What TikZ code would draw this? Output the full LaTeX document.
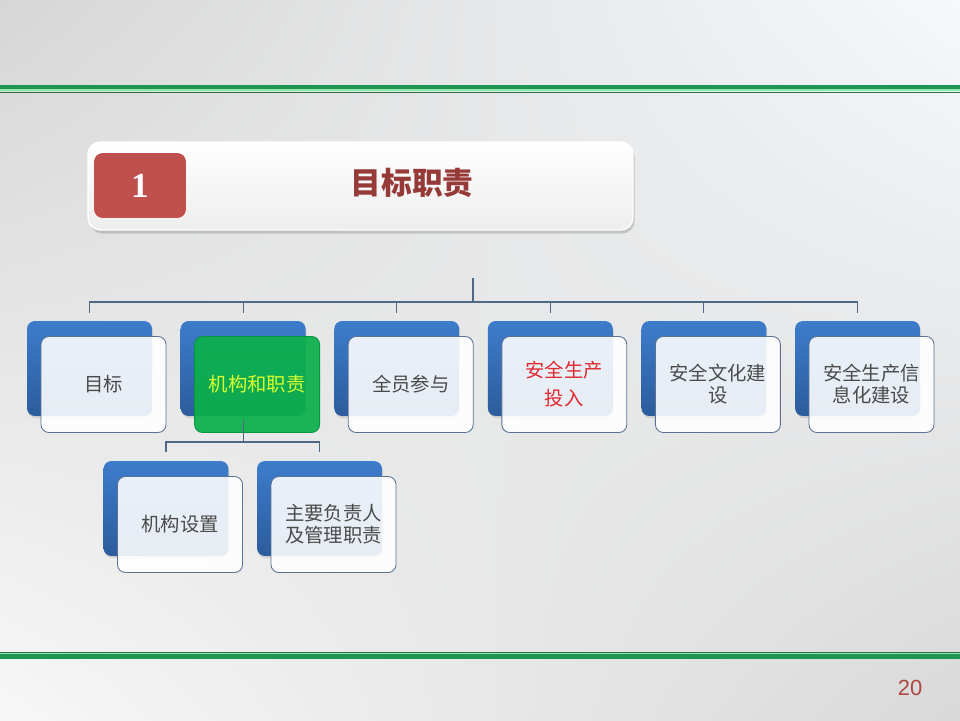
\documentclass[tikz,border=0pt]{standalone}
\usepackage{fontspec}
\setmainfont{Noto Sans CJK SC}
\newfontfamily\numsans{Liberation Sans}
\newfontfamily\numserif{Liberation Serif}
\usepackage{xcolor}
\usepackage{tikz}
\usetikzlibrary{shadows,shadings}
\definecolor{boxtop}{HTML}{3D7CCB}
\definecolor{boxbot}{HTML}{2C5C9C}
\definecolor{edge}{HTML}{5A7293}
\definecolor{labgray}{HTML}{4A4A4A}
\definecolor{hotgreen}{HTML}{0BB04C}
\definecolor{hottext}{HTML}{D8FF2E}
\definecolor{linkc}{HTML}{4E6886}
\definecolor{numred}{HTML}{C0504D}
\definecolor{titred}{HTML}{963A38}
\definecolor{redtxt}{HTML}{E0282E}
\definecolor{ruledark}{HTML}{1E9553}
\definecolor{rulelight}{HTML}{8BE9A9}
\definecolor{ruleline}{HTML}{2A6F45}
\definecolor{bgpale}{HTML}{F6F8FA}
\tikzset{
  back/.style={rectangle,rounded corners=4.5pt,minimum width=2.5cm,minimum height=1.9cm,top color=boxtop,bottom color=boxbot,draw=none,
    drop shadow={shadow xshift=0.6pt,shadow yshift=-1.2pt,opacity=0.25}},
  front/.style={rectangle,rounded corners=4.5pt,minimum width=2.5cm,minimum height=1.92cm,draw=edge,line width=0.5pt,
    fill=white,fill opacity=0.89,text opacity=1,text=labgray,font=\fontsize{11}{14}\selectfont,align=center},
  hot/.style={front,fill=hotgreen,fill opacity=0.93,draw=hotgreen!85!black,text=hottext},
  link/.style={draw=linkc,line width=0.6pt}
}

\begin{document}
\begin{tikzpicture}[x=0.02cm,y=-0.02cm]
\useasboundingbox (0,0) rectangle (960,720);
\shade[upper left=black!16,upper right=bgpale,lower left=white!97!black,lower right=black!15] (0,0) rectangle (960,720);
\draw[ruledark,line width=2.3pt] (0,87) -- (960,87);
\draw[rulelight,line width=1.1pt] (0,90) -- (960,90);
\draw[ruleline,line width=0.5pt] (0,92) -- (960,92);
\draw[ruleline,line width=0.5pt] (0,652.5) -- (960,652.5);
\draw[rulelight,line width=1.1pt] (0,654) -- (960,654);
\draw[ruledark,line width=2.3pt] (0,656.5) -- (960,656.5);

\node[rectangle,rounded corners=7pt,minimum width=10.9cm,minimum height=1.76cm,top color=white,bottom color=black!7,draw=white,line width=0.8pt,
  drop shadow={shadow xshift=1pt,shadow yshift=-2pt,opacity=0.35}] (banner) at (360.5,186) {};
\node[rectangle,rounded corners=5pt,minimum width=1.84cm,minimum height=1.3cm,fill=numred,text=white,font=\numserif\bfseries\fontsize{20}{20}\selectfont] (num) at (140,185.5) {1};
\node[text=titred,font=\bfseries\fontsize{17.5}{20}\selectfont] (ttl) at (412,183) {目标职责};

\node[back] (b1) at (89.5,368.5) {};
\node[back] (b2) at (243.1,368.5) {};
\node[back] (b3) at (396.7,368.5) {};
\node[back] (b4) at (550.3,368.5) {};
\node[back] (b5) at (703.9,368.5) {};
\node[back] (b6) at (857.5,368.5) {};
\node[front] (f1) at ([shift={(14,16)}]b1.center) {目标};
\node[hot] (f2) at ([shift={(14,16)}]b2.center) {机构和职责};
\node[front] (f3) at ([shift={(14,16)}]b3.center) {全员参与};
\node[front,text=redtxt,font=\fontsize{11}{16}\selectfont] (f4) at ([shift={(14,16)}]b4.center) {安全生产\\投入};
\node[front,font=\fontsize{11}{12.5}\selectfont] (f5) at ([shift={(14,16)}]b5.center) {安全文化建\\设};
\node[front,font=\fontsize{11}{12.5}\selectfont] (f6) at ([shift={(14,16)}]b6.center) {安全生产信\\息化建设};

\node[back] (s1) at (166,508.5) {};
\node[back] (s2) at (319.5,508.5) {};
\node[front] (g1) at ([shift={(14,16)}]s1.center) {机构设置};
\node[front,font=\fontsize{11}{12.5}\selectfont] (g2) at ([shift={(14,16)}]s2.center) {主要负责人\\及管理职责};

\node[text=numred!90!black,font=\numsans\fontsize{12.5}{14}\selectfont] (pg) at (910,688) {20};

\coordinate (root) at (473,278);
\coordinate (bar) at (473,302);
\coordinate (d1) at (89.5,313);
\coordinate (d2) at (243.1,313);
\coordinate (d3) at (396.7,313);
\coordinate (d4) at (550.3,313);
\coordinate (d5) at (703.9,313);
\coordinate (d6) at (857.5,313);
\draw[link] (root) -- (bar);
\draw[link] (bar) -| (d1);
\draw[link] (bar) -| (d2);
\draw[link] (bar) -| (d3);
\draw[link] (bar) -| (d4);
\draw[link] (bar) -| (d5);
\draw[link] (bar) -| (d6);

\coordinate (stem) at (243.1,420);
\coordinate (sbar) at (243.1,442);
\coordinate (e1) at (166,452);
\coordinate (e2) at (319.5,452);
\draw[link] (stem) -- (sbar);
\draw[link] (sbar) -| (e1);
\draw[link] (sbar) -| (e2);
\end{tikzpicture}
\end{document}
